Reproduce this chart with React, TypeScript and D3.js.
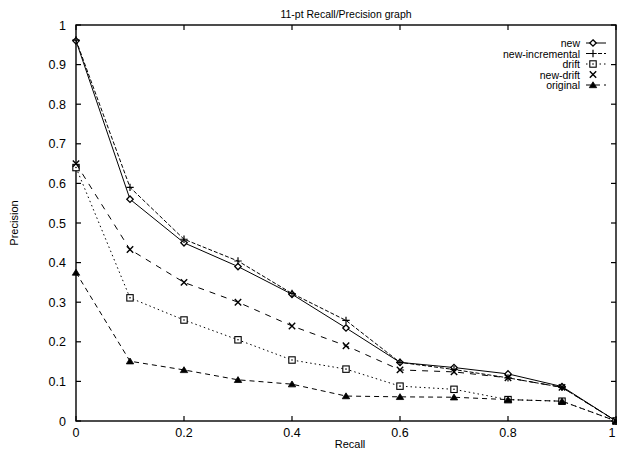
import React from "react";
import * as d3 from "d3";

const recall = [0, 0.1, 0.2, 0.3, 0.4, 0.5, 0.6, 0.7, 0.8, 0.9, 1.0];
const newVals = [0.96, 0.56, 0.45, 0.39, 0.32, 0.235, 0.148, 0.135, 0.119, 0.087, 0];
const newIncremental = [0.962, 0.59, 0.459, 0.404, 0.322, 0.254, 0.148, 0.13, 0.109, 0.085, 0];
const drift = [0.64, 0.311, 0.255, 0.205, 0.154, 0.131, 0.088, 0.08, 0.054, 0.05, 0];
const newDrift = [0.65, 0.433, 0.35, 0.3, 0.24, 0.19, 0.129, 0.124, 0.109, 0.085, 0];
const original = [0.375, 0.151, 0.129, 0.104, 0.093, 0.063, 0.061, 0.06, 0.054, 0.05, 0];

const seriesNames = ["new", "new-incremental", "drift", "new-drift", "original"];
const xTicks = [0, 0.2, 0.4, 0.6, 0.8, 1];
const xTickLabels = ["0", "0.2", "0.4", "0.6", "0.8", "1"];
const yTicks = [0, 0.1, 0.2, 0.3, 0.4, 0.5, 0.6, 0.7, 0.8, 0.9, 1];
const yTickLabels = ["0", "0.1", "0.2", "0.3", "0.4", "0.5", "0.6", "0.7", "0.8", "0.9", "1"];

const W = 617, H = 453;
const L = 76, R = 616, T = 25, B = 421;
const FONT = "'Liberation Sans', Arial, Helvetica, sans-serif";

const seriesValues = [newVals, newIncremental, drift, newDrift, original];
const dashes = ["none", "4,2", "1.5,3", "6,6", "5,4"];
const markers = ["diamond", "plus", "square", "cross", "triangle"];

function Marker({ type, x, y }: { type: string; x: number; y: number }) {
  const s = 3.2;
  if (type === "diamond")
    return <path d={`M${x},${y - s}L${x + s},${y}L${x},${y + s}L${x - s},${y}Z`} fill="white" stroke="black" strokeWidth={1.3} />;
  if (type === "plus")
    return <path d={`M${x - s - 0.5},${y}H${x + s + 0.5}M${x},${y - s - 0.5}V${y + s + 0.5}`} stroke="black" strokeWidth={1.2} />;
  if (type === "square")
    return (
      <g>
        <rect x={x - s} y={y - s} width={2 * s} height={2 * s} fill="white" stroke="black" strokeWidth={1.1} />
        <circle cx={x} cy={y} r={0.8} fill="black" />
      </g>
    );
  if (type === "cross")
    return <path d={`M${x - s},${y - s}L${x + s},${y + s}M${x - s},${y + s}L${x + s},${y - s}`} stroke="black" strokeWidth={1.4} />;
  return <path d={`M${x},${y - s}L${x + s + 0.5},${y + s - 0.5}L${x - s - 0.5},${y + s - 0.5}Z`} fill="black" stroke="black" strokeWidth={0.8} />;
}

export default function App() {
  const x = d3.scaleLinear().domain([0, 1]).range([L, R]);
  const y = d3.scaleLinear().domain([0, 1]).range([B, T]);
  const line = d3
    .line<number>()
    .x((_, i) => x(recall[i]))
    .y((d) => y(d));

  const legendY0 = 43;
  const legendDy = 10.5;
  const legendTextX = 580;

  return (
    <svg
      width={W}
      height={H}
      style={{ position: "absolute", left: 0, top: 0, background: "white" }}
      fontFamily={FONT}
    >
      <rect x={0} y={0} width={W} height={H} fill="white" />
      <text x={(L + R) / 2} y={18} textAnchor="middle" fontSize={10.5}>
        11-pt Recall/Precision graph
      </text>

      {/* frame */}
      <rect x={L} y={T} width={R - L} height={B - T} fill="none" stroke="black" strokeWidth={1.4} />

      {/* y ticks */}
      {yTicks.map((t, i) => (
        <g key={"y" + i}>
          <line x1={L} x2={L + 5} y1={y(t)} y2={y(t)} stroke="black" strokeWidth={1.2} />
          <line x1={R} x2={R - 5} y1={y(t)} y2={y(t)} stroke="black" strokeWidth={1.2} />
          <text x={L - 10} y={y(t) + 4.5} textAnchor="end" fontSize={12.5}>
            {yTickLabels[i]}
          </text>
        </g>
      ))}
      {/* x ticks */}
      {xTicks.map((t, i) => (
        <g key={"x" + i}>
          <line x1={x(t)} x2={x(t)} y1={B} y2={B - 5} stroke="black" strokeWidth={1.2} />
          <line x1={x(t)} x2={x(t)} y1={T} y2={T + 5} stroke="black" strokeWidth={1.2} />
          <text x={Math.min(x(t), 612)} y={B + 16} textAnchor="middle" fontSize={12.5}>
            {xTickLabels[i]}
          </text>
        </g>
      ))}

      <text x={350} y={448} textAnchor="middle" fontSize={11}>
        Recall
      </text>
      <text
        transform={`translate(18, ${y(0.5)}) rotate(-90)`}
        textAnchor="middle"
        fontSize={11}
      >
        Precision
      </text>

      {/* series */}
      {seriesValues.map((vals, si) => (
        <g key={"s" + si}>
          <path d={line(vals) || ""} fill="none" stroke="black" strokeWidth={1} strokeDasharray={dashes[si]} />
          {vals.map((v, i) => (
            <Marker key={i} type={markers[si]} x={x(recall[i])} y={y(v)} />
          ))}
        </g>
      ))}

      {/* legend */}
      {seriesNames.map((name, i) => {
        const ly = legendY0 + i * legendDy;
        return (
          <g key={"l" + i}>
            <text x={legendTextX} y={ly + 4} textAnchor="end" fontSize={10.5}>
              {name}
            </text>
            {i !== 3 && (
              <line x1={586} x2={606} y1={ly} y2={ly} stroke="black" strokeWidth={1} strokeDasharray={dashes[i]} />
            )}
            <Marker type={markers[i]} x={593} y={ly} />
          </g>
        );
      })}
    </svg>
  );
}
